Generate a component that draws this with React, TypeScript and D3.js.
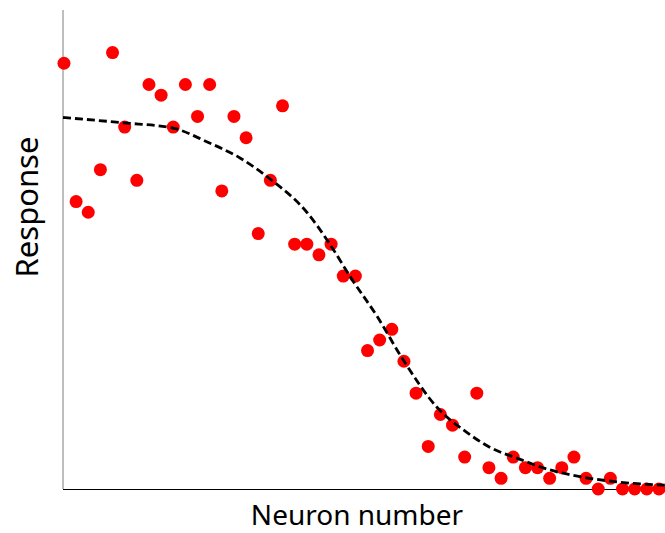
import React, { useEffect, useRef } from 'react';
import * as d3 from 'd3';

// neuron index and measured response
const neurons = d3.range(1, 51);
const responses = [40, 27, 26, 30, 41, 34, 29, 38, 37, 34, 38, 35, 38, 28, 35, 33, 24, 29, 36, 23,
  23, 22, 23, 20, 20, 13, 14, 15, 12, 9, 4, 7, 6, 3, 9, 2, 1, 3, 2, 2,
  1, 2, 3, 1, 0, 1, 0, 0, 0, 0];

// fitted curve, sampled
const fitX = [0.92, 5.9, 10, 12.8, 15.5, 18, 21, 22.9, 24.6, 26.8, 28.9, 31.7, 34.2, 36.1, 38.3, 41, 43.8, 46.6, 50.5];
const fitY = [34.9, 34.4, 33.9, 32.6, 31.1, 29.1, 26, 23, 19.9, 16.2, 12.2, 7.7, 5.3, 3.9, 2.9, 1.8, 1.1, 0.66, 0.36];

const xLabel = 'Neuron number';
const yLabel = 'Response';

export default function App() {
  const ref = useRef<SVGSVGElement>(null);

  useEffect(() => {
    const svg = d3.select(ref.current);
    svg.selectAll('*').remove();

    const x = d3.scaleLinear().domain([0.92, 50.5]).range([63, 665]);
    const y = d3.scaleLinear().domain([0, 45]).range([489, 10]);

    // axes, no ticks
    svg.append('line')
      .attr('x1', x(0.92)).attr('x2', x(0.92))
      .attr('y1', y(45)).attr('y2', y(0))
      .attr('stroke', '#7f7f7f').attr('stroke-width', 1);
    svg.append('line')
      .attr('x1', x(0.92)).attr('x2', x(50.5))
      .attr('y1', y(0) + 0.5).attr('y2', y(0) + 0.5)
      .attr('stroke', '#000').attr('stroke-width', 1.2);

    svg.selectAll('circle.pt')
      .data(neurons)
      .enter()
      .append('circle')
      .attr('class', 'pt')
      .attr('cx', d => x(d))
      .attr('cy', (d, i) => y(responses[i]))
      .attr('r', 6.5)
      .attr('fill', '#ff0000');

    const line = d3.line<number>()
      .x(d => x(d))
      .y((d, i) => y(fitY[i]))
      .curve(d3.curveMonotoneX);

    svg.append('path')
      .attr('d', line(fitX))
      .attr('fill', 'none')
      .attr('stroke', '#000')
      .attr('stroke-width', 2.8)
      .attr('stroke-dasharray', '8,4');

    svg.append('text')
      .attr('x', 357).attr('y', 525)
      .attr('text-anchor', 'middle')
      .attr('font-family', 'Noto Sans, sans-serif')
      .attr('font-size', 28)
      .text(xLabel);

    svg.append('text')
      .attr('transform', 'translate(38,207) rotate(-90)')
      .attr('text-anchor', 'middle')
      .attr('font-family', 'Noto Sans, sans-serif')
      .attr('font-size', 31)
      .text(yLabel);
  }, []);

  return (
    <svg ref={ref} width={665} height={533}
      style={{ position: 'absolute', left: 0, top: 0, background: '#fff' }} />
  );
}
